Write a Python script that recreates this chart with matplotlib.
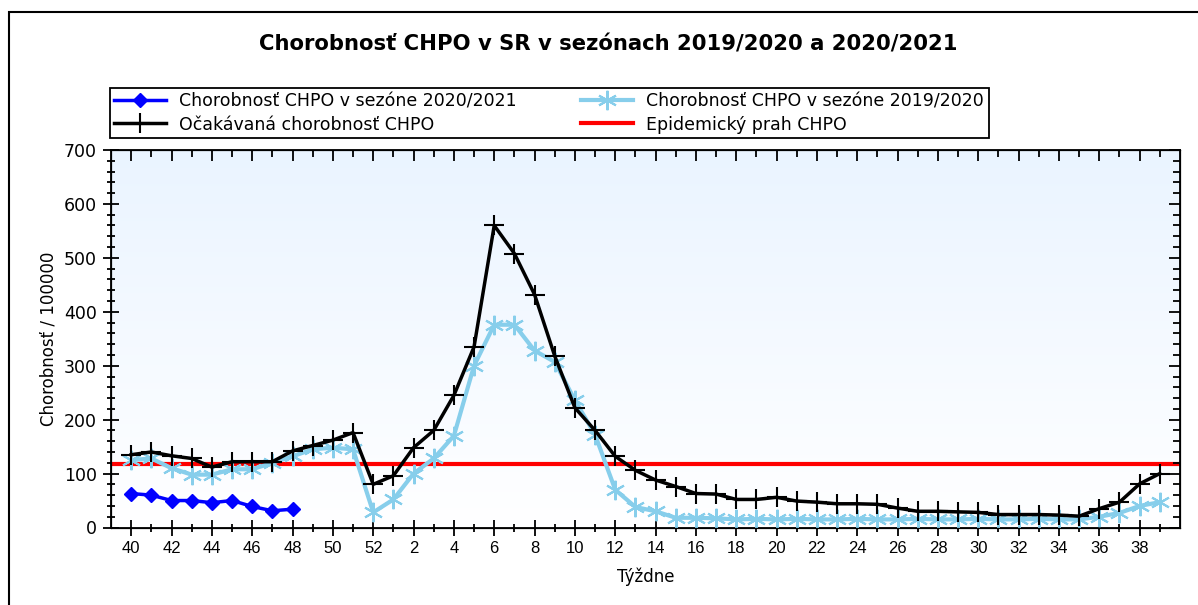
import numpy as np
import matplotlib
matplotlib.use("Agg")
import matplotlib.pyplot as plt
from matplotlib.colors import LinearSegmentedColormap
from matplotlib.patches import Rectangle
from matplotlib.ticker import MultipleLocator

# weeks of the season, 40..52 then 1..39
weeks = list(range(40, 53)) + list(range(1, 40))

# morbidity 2020/2021 (only first weeks available)
season_2021 = [63, 60, 50, 50, 46, 50, 39, 31, 34]

# morbidity 2019/2020
season_1920 = [125, 128, 110, 98, 98, 108, 108, 120, 132, 145, 148, 145, 28,
               52, 100, 128, 170, 300, 376, 376, 328, 307, 236, 172, 70, 38,
               30, 18, 18, 17, 15, 16, 15, 16, 15, 15, 16, 15, 15, 16, 15, 15,
               16, 15, 15, 16, 15, 15, 20, 27, 40, 47]

# expected morbidity
expected = [135, 140, 133, 128, 112, 122, 122, 122, 142, 152, 162, 176, 80,
            96, 148, 180, 245, 335, 560, 508, 432, 318, 222, 180, 132, 106,
            88, 76, 63, 62, 52, 52, 56, 49, 47, 44, 44, 43, 36, 30, 30, 29,
            28, 24, 24, 24, 23, 21, 35, 47, 81, 100]

threshold = 118

x = np.arange(len(weeks))

fig = plt.figure(figsize=(11.98, 6.05), dpi=100)
ax = fig.add_axes([111/1198, 1-527.5/605, (1180-111)/1198, (527.5-150)/605])

# light blue -> white gradient background
cmap = LinearSegmentedColormap.from_list("bg", ["#ffffff", "#eaf4ff"])
ax.imshow(np.linspace(0, 1, 256).reshape(-1, 1), cmap=cmap, origin="lower",
          extent=[0, 1, 0, 1], transform=ax.transAxes, aspect="auto", zorder=0)

l_red = ax.axhline(threshold, color="#ff0000", lw=3, zorder=2)
l_blue, = ax.plot(x[:len(season_2021)], season_2021, color="#0000ff", lw=2.5,
                  marker="D", ms=7, zorder=5)
l_light, = ax.plot(x, season_1920, color="#87ceeb", lw=3, marker=(6, 2, 0),
                   ms=14, mew=1.5, zorder=3)
l_black, = ax.plot(x, expected, color="black", lw=2.5, marker="+", ms=14,
                   mew=1.5, zorder=4)

ax.set_xlim(-1, 52)
ax.set_ylim(0, 700)
ax.set_xticks(x[::2])
ax.set_xticklabels([str(w) for w in weeks[::2]], fontsize=12,
                   family="Liberation Sans")
ax.set_xticks(x[1::2], minor=True)
ax.yaxis.set_major_locator(MultipleLocator(100))
ax.yaxis.set_minor_locator(MultipleLocator(20))
for lab in ax.get_yticklabels():
    lab.set_fontsize(12.5)
ax.tick_params(axis="both", which="major", direction="inout", length=12,
               width=1.3, pad=4)
ax.tick_params(axis="both", which="minor", direction="inout", length=6,
               width=1.3)
for s in ax.spines.values():
    s.set_linewidth(1.3)

# inward ticks on top and right
axt = ax.twiny()
axt.set_xlim(ax.get_xlim())
axt.set_xticks(x[::2])
axt.set_xticks(x[1::2], minor=True)
axt.tick_params(axis="x", which="major", direction="in", length=8, width=1.3,
                labeltop=False)
axt.tick_params(axis="x", which="minor", direction="in", length=5, width=1.3)
axr = ax.twinx()
axr.set_ylim(ax.get_ylim())
axr.yaxis.set_major_locator(MultipleLocator(100))
axr.yaxis.set_minor_locator(MultipleLocator(20))
axr.tick_params(axis="y", which="major", direction="in", length=8, width=1.3,
                labelright=False)
axr.tick_params(axis="y", which="minor", direction="in", length=5, width=1.3)

ax.set_xlabel("Týždne", fontsize=12, labelpad=8)
ax.set_ylabel("Chorobnosť / 100000", fontsize=12, labelpad=5)

fig.text(0.508, 1-45/605, "Chorobnosť CHPO v SR v sezónach 2019/2020 a 2020/2021",
         ha="center", va="center", fontsize=15.2, fontweight="bold")

leg = fig.legend([l_blue, l_black, l_light, l_red],
                 ["Chorobnosť CHPO v sezóne 2020/2021",
                  "Očakávaná chorobnosť CHPO",
                  "Chorobnosť CHPO v sezóne 2019/2020",
                  "Epidemický prah CHPO"],
                 ncol=2, loc="upper left",
                 bbox_to_anchor=(110/1198, 1-88/605),
                 fancybox=False, framealpha=1, edgecolor="black",
                 borderpad=0.25, labelspacing=0.3, handlelength=3.0,
                 handletextpad=0.75, columnspacing=3.7, fontsize=12.5,
                 borderaxespad=0)
leg.get_frame().set_linewidth(1.3)

# outer frame of the picture
fig.patches.append(Rectangle((9/1198, -0.1), 1.1, 1.1 - 12/605,
                             transform=fig.transFigure, fill=False,
                             edgecolor="black", lw=1.5))

fig.savefig("out.png", dpi=100)
